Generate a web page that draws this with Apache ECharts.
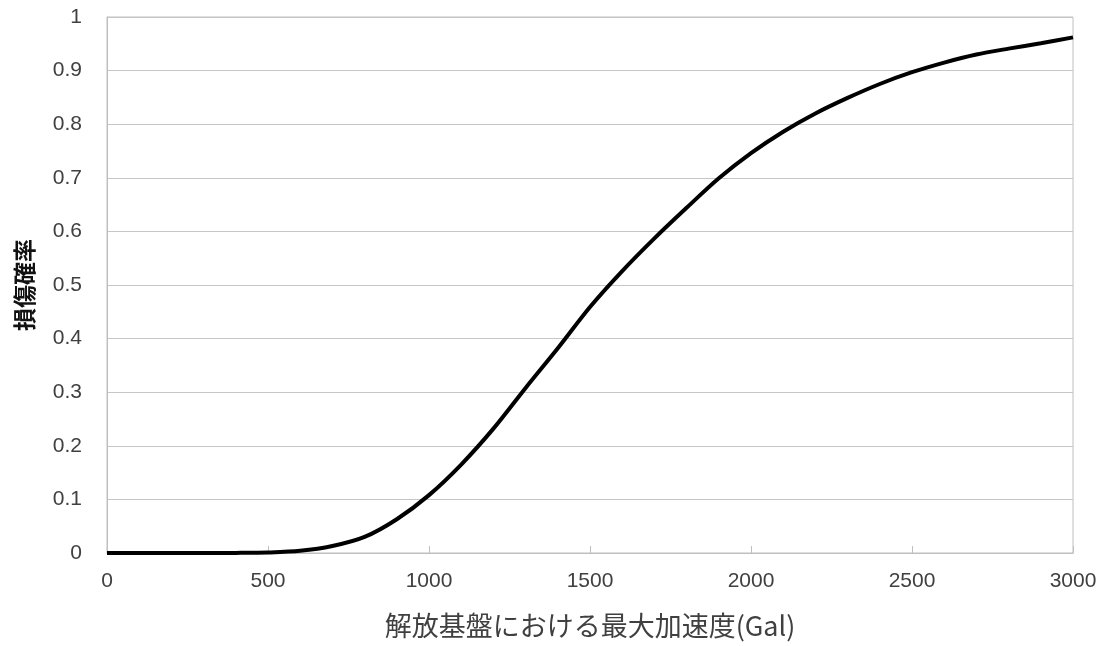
<!DOCTYPE html>
<html>
<head>
<meta charset="utf-8">
<script src="https://cdn.jsdelivr.net/npm/echarts@6/dist/echarts.min.js"></script>
<style>
html,body{margin:0;padding:0;background:#fff;}
#chart{width:1107px;height:646px;}
</style>
</head>
<body>
<div id="chart"></div>
<script>
// Peak ground acceleration at bedrock (Gal)
const accel = [0,100,200,300,400,500,600,700,800,900,1000,1100,1200,1300,1400,1500,1600,1700,1800,1900,2000,2100,2200,2300,2400,2500,2600,2700,2800,2900,3000];
// Damage probability
const probability = [0,0,0,0,0.0002,0.001,0.004,0.013,0.03,0.063,0.108,0.165,0.232,0.308,0.382,0.459,0.526,0.587,0.644,0.699,0.746,0.786,0.820,0.849,0.875,0.897,0.915,0.930,0.941,0.951,0.962];
const xTicks = [0,500,1000,1500,2000,2500,3000];
const yTicks = [0,0.1,0.2,0.3,0.4,0.5,0.6,0.7,0.8,0.9,1];
const xName = '解放基盤における最大加速度(Gal)';
const yName = '損傷確率';

const chart = echarts.init(document.getElementById('chart'), null, {renderer:'canvas'});
const pts = accel.map((a,i)=>[a, probability[i]]);
chart.setOption({
  animation:false,
  backgroundColor:'#ffffff',
  grid:{left:107,right:34,top:17,bottom:93,show:true,borderColor:'#bfbfbf',borderWidth:1,backgroundColor:'transparent'},
  xAxis:{
    type:'value',min:xTicks[0],max:xTicks[xTicks.length-1],interval:500,
    name:xName,nameLocation:'middle',nameGap:59,
    nameTextStyle:{fontFamily:'Noto Sans CJK JP',fontSize:27,color:'#404040'},
    axisLine:{show:true,lineStyle:{color:'#bfbfbf',width:1}},
    axisTick:{show:true,inside:true,length:7,lineStyle:{color:'#bfbfbf'}},
    axisLabel:{fontFamily:'Liberation Sans',fontSize:21,color:'#404040',margin:18,
      formatter:v=>String(v)},
    splitLine:{show:false}
  },
  yAxis:{
    type:'value',min:0,max:1,interval:0.1,
    name:yName,nameLocation:'middle',nameGap:71,nameRotate:90,
    nameTextStyle:{fontFamily:'Noto Sans CJK JP',fontSize:23,color:'#111',fontWeight:'bold'},
    axisLine:{show:true,lineStyle:{color:'#bfbfbf',width:1}},
    axisTick:{show:false},
    axisLabel:{fontFamily:'Liberation Sans',fontSize:21,color:'#404040',margin:25,
      formatter:v=>{const t=yTicks.find(k=>Math.abs(k-v)<1e-9);return t===undefined?'':String(t);}},
    splitLine:{show:true,lineStyle:{color:'#c6c6c6',width:1}}
  },
  series:[{
    type:'line',data:pts,smooth:0.3,showSymbol:false,
    lineStyle:{color:'#000',width:4},clip:false
  }]
});
</script>
</body>
</html>
